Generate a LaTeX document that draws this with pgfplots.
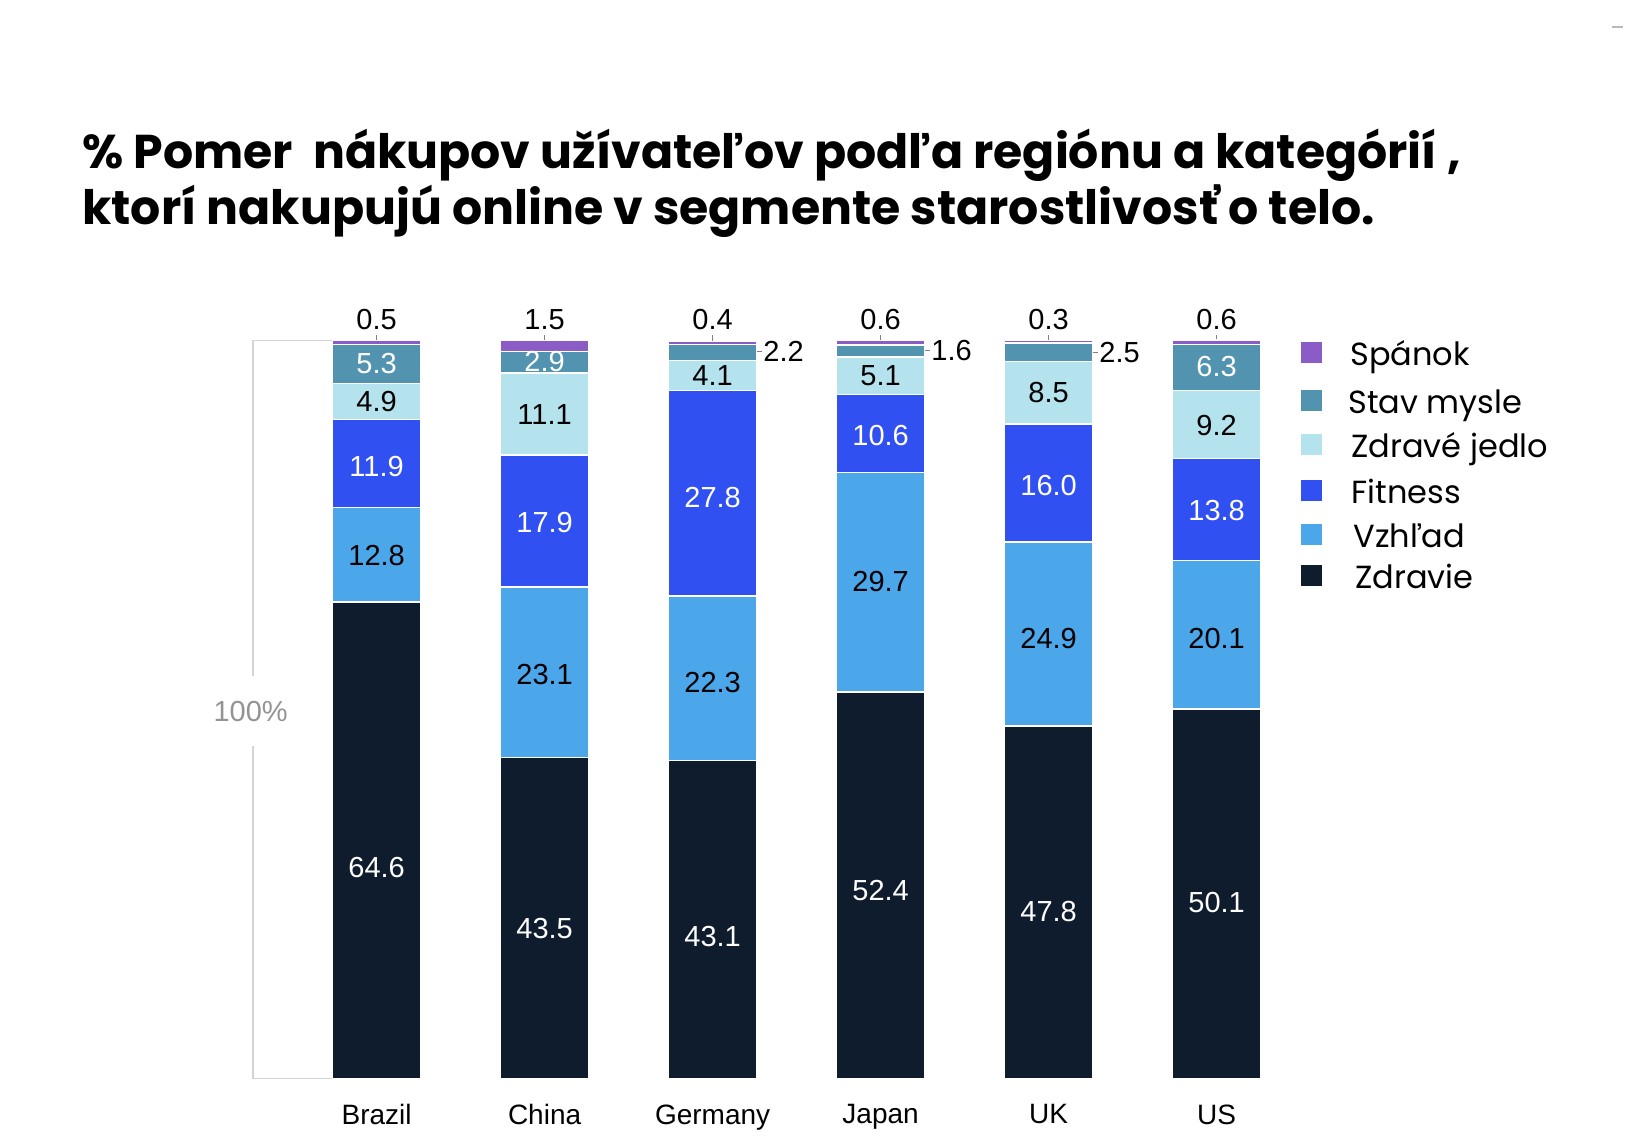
\documentclass[border=0pt]{standalone}
\usepackage{fontspec}
\setmainfont{Liberation Sans}
\newfontfamily\pop{Poppins}
\usepackage{pgfplots}
\usepackage{pgfplotstable}
\pgfplotsset{compat=1.18}
\definecolor{spanok}{HTML}{8B5CC6}
\definecolor{stav}{HTML}{5294B0}
\definecolor{jedlo}{HTML}{B4E3EE}
\definecolor{fitness}{HTML}{3050F2}
\definecolor{vzhlad}{HTML}{4BA6EA}
\definecolor{zdravie}{HTML}{0E1C2D}
\definecolor{lgray}{HTML}{D4D4D4}

% values, bottom to top
\pgfplotstableread{
x zdravie vzhlad fitness jedlo stav spanok
0 64.6 12.8 11.9 4.9 5.3 0.5
1 43.5 23.1 17.9 11.1 2.9 1.5
2 43.1 22.3 27.8 4.1 2.2 0.4
3 52.4 29.7 10.6 5.1 1.6 0.6
4 47.8 24.9 16.0 8.5 2.5 0.3
5 50.1 20.1 13.8 9.2 6.3 0.6
}\data

% label positions
\pgfplotstableread{
x y l
0 28.6 64.6
1 20.4 43.5
2 19.2 43.1
3 25.5 52.4
4 22.6 47.8
5 23.9 50.1
0 83.0 11.9
1 75.3 17.9
2 78.8 27.8
3 87.2 10.6
4 80.3 16.0
5 77.0 13.8
0 96.9 5.3
1 97.1 2.9
5 96.5 6.3
}\whitelab
\pgfplotstableread{
x y l
0 70.9 12.8
1 54.8 23.1
2 53.7 22.3
3 67.3 29.7
4 59.6 24.9
5 59.6 20.1
0 91.7 4.9
1 90.0 11.1
2 95.3 4.1
3 95.2 5.1
4 92.9 8.5
5 88.5 9.2
}\blacklab
\pgfplotstableread{
x y l
0 102.8 0.5
1 102.8 1.5
2 102.8 0.4
3 102.8 0.6
4 102.8 0.3
5 102.8 0.6
}\toplab
\pgfplotstableread{
x y l
2.30 98.5 2.2
3.30 98.6 1.6
4.30 98.45 2.5
}\sidelab

\begin{document}
\begin{tikzpicture}
\path[use as bounding box] (0,0) rectangle (822.5pt,568pt);
% title
\node[anchor=base west, inner sep=0pt, font=\pop\bfseries\fontsize{23.7}{28}\selectfont] at (41pt,483.5pt) {\% Pomer\ \ nákupov užívateľov podľa regiónu a kategórií ,};
\node[anchor=base west, inner sep=0pt, font=\pop\bfseries\fontsize{23.7}{28}\selectfont] at (41pt,455.5pt) {ktorí nakupujú online v segmente starostlivosť o telo.};
% top-right dash
\draw[gray!55, line width=1.2pt] (806pt,554.6pt) -- (811.5pt,554.6pt);

\begin{axis}[
  at={(188.3pt,28.7pt)}, anchor=origin,
  x=84pt, y=3.69pt,
  xmin=-0.74, xmax=5.5, ymin=0, ymax=100,
  ybar stacked, bar width=44pt,
  axis line style={draw=none},
  major tick length=0pt,
  ytick=\empty,
  xtick={0,1,2,3,4,5},
  xticklabels={Brazil,China,Germany,Japan,UK,US},
  xticklabel style={font=\fontsize{14}{16}\selectfont, yshift=-9.5pt},
  clip=false,
]
\addplot[fill=zdravie, draw=white, line width=0.7pt] table[x=x,y=zdravie] {\data};
\addplot[fill=vzhlad, draw=white, line width=0.7pt] table[x=x,y=vzhlad] {\data};
\addplot[fill=fitness, draw=white, line width=0.7pt] table[x=x,y=fitness] {\data};
\addplot[fill=jedlo, draw=white, line width=0.7pt] table[x=x,y=jedlo] {\data};
\addplot[fill=stav, draw=white, line width=0.7pt] table[x=x,y=stav] {\data};
\addplot[fill=spanok, draw=white, line width=0.7pt] table[x=x,y=spanok] {\data};
% bracket
\draw[lgray, line width=0.8pt] (axis cs:-0.262,100) -- (axis cs:-0.737,100) -- (axis cs:-0.737,54.6);
\draw[lgray, line width=0.8pt] (axis cs:-0.737,45.1) -- (axis cs:-0.737,0) -- (axis cs:-0.262,0);
\node[font=\fontsize{14.5}{16}\selectfont, text=gray!85] at (axis cs:-0.75,49.7) {100\%};
% leaders
\draw[gray, line width=0.5pt] (axis cs:0,100) -- (axis cs:0,100.8);
\draw[gray, line width=0.5pt] (axis cs:1,100) -- (axis cs:1,100.8);
\draw[gray, line width=0.5pt] (axis cs:2,100) -- (axis cs:2,100.8);
\draw[gray, line width=0.5pt] (axis cs:3,100) -- (axis cs:3,100.8);
\draw[gray, line width=0.5pt] (axis cs:4,100) -- (axis cs:4,100.8);
\draw[gray, line width=0.5pt] (axis cs:5,100) -- (axis cs:5,100.8);
\draw[gray, line width=0.5pt] (axis cs:2.262,98.5) -- (axis cs:2.295,98.5);
\draw[gray, line width=0.5pt] (axis cs:3.262,98.6) -- (axis cs:3.295,98.6);
\draw[gray, line width=0.5pt] (axis cs:4.262,98.45) -- (axis cs:4.295,98.45);
\end{axis}

\begin{axis}[
  at={(188.3pt,28.7pt)}, anchor=origin,
  x=84pt, y=3.69pt,
  xmin=-0.74, xmax=5.5, ymin=0, ymax=100,
  hide axis, clip=false,
  nodes near coords, point meta=explicit symbolic,
]
\addplot[draw=none, every node near coord/.style={anchor=center, text=white, font=\fontsize{14.5}{16}\selectfont}] table[x=x,y=y,meta=l] {\whitelab};
\addplot[draw=none, every node near coord/.style={anchor=center, text=black, font=\fontsize{14.5}{16}\selectfont}] table[x=x,y=y,meta=l] {\blacklab};
\addplot[draw=none, every node near coord/.style={anchor=center, text=black, font=\fontsize{14.5}{16}\selectfont}] table[x=x,y=y,meta=l] {\toplab};
\addplot[draw=none, every node near coord/.style={anchor=west, inner sep=0pt, text=black, font=\fontsize{14.5}{16}\selectfont}] table[x=x,y=y,meta=l] {\sidelab};
\end{axis}

% legend
\foreach \c/\t/\yy/\xx in {spanok/Spánok/392.5/675, stav/Stav mysle/368.5/674, jedlo/Zdravé jedlo/346.5/675.5, fitness/Fitness/323.5/675.5, vzhlad/Vzhľad/301.5/676.5, zdravie/Zdravie/281/677.5} {
  \fill[\c] (650.5pt,\yy pt-6.25pt) rectangle (661pt,\yy pt+4.25pt);
  \node[anchor=mid west, inner sep=0pt, font=\pop\fontsize{16}{18}\selectfont] at (\xx pt,\yy pt-4.4pt) {\t};
}
\end{tikzpicture}
\end{document}
